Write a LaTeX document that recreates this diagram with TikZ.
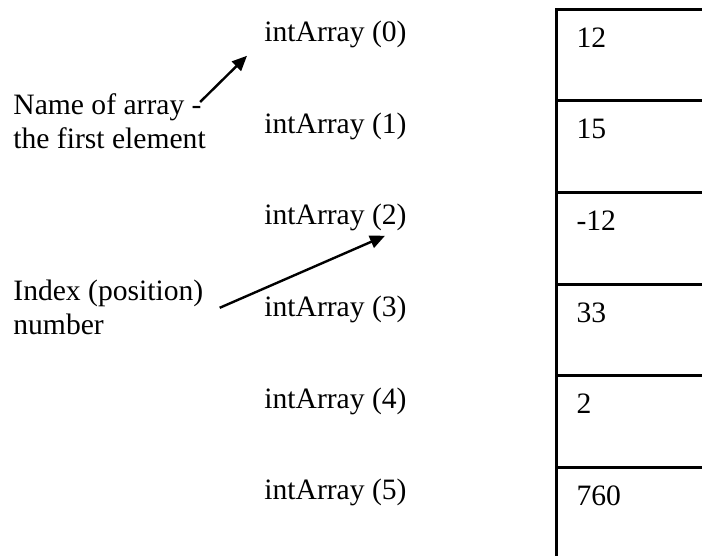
\documentclass[tikz,border=0pt]{standalone}
\usepackage{fontspec}
\setmainfont{Liberation Serif}
\usetikzlibrary{positioning, arrows.meta}

\begin{document}
\begin{tikzpicture}[
    x=0.5pt, y=-0.5pt,
    every node/.style={font=\fontsize{14.8}{17}\selectfont},
    idxlabel/.style={anchor=base west, inner sep=2pt},
    cell/.style={rectangle, draw, line width=1.5pt, anchor=north west,
                 minimum width=100pt, minimum height=45.75pt,
                 text width=80pt, align=left, inner xsep=10pt, inner ysep=0pt,
                 text height=19pt, text depth=26.75pt},
    note/.style={align=left, inner sep=0pt, anchor=north west},
    pointer/.style={-{Triangle[length=7.5pt,width=6.5pt]}, line width=1.2pt},
  ]
    \clip (0,0) rectangle (702,556);

    % Element names
    \node[idxlabel] (lbl0) at (260,42)    {intArray (0)};
    \node[idxlabel] (lbl1) at (260,133.5) {intArray (1)};
    \node[idxlabel] (lbl2) at (260,225)   {intArray (2)};
    \node[idxlabel] (lbl3) at (260,316.5) {intArray (3)};
    \node[idxlabel] (lbl4) at (260,408)   {intArray (4)};
    \node[idxlabel] (lbl5) at (260,499.5) {intArray (5)};

    % Memory cells (the column runs off the right and bottom edge)
    \node[cell] (cell0) at (555,8)     {12};
    \node[cell] (cell1) at (555,99.5)  {15};
    \node[cell] (cell2) at (555,191)   {-12};
    \node[cell] (cell3) at (555,282.5) {33};
    \node[cell] (cell4) at (555,374)   {2};
    \node[cell] (cell5) at (555,465.5) {760};

    % Notes on the left
    \node[note] (name) at (13,93)
         {Name of array -\\the first element};
    \node[note] (index) at (13,280)
         {Index (position)\\number};

    \draw[pointer] ([xshift=-3pt,yshift=-4.5pt]name.north east)
        -- ([xshift=-6.5pt,yshift=-1.5pt]lbl0.south west);
    \draw[pointer] ([xshift=8pt]index.east)
        -- ([xshift=-13pt]lbl2.south east);
  \end{tikzpicture}
\end{document}
